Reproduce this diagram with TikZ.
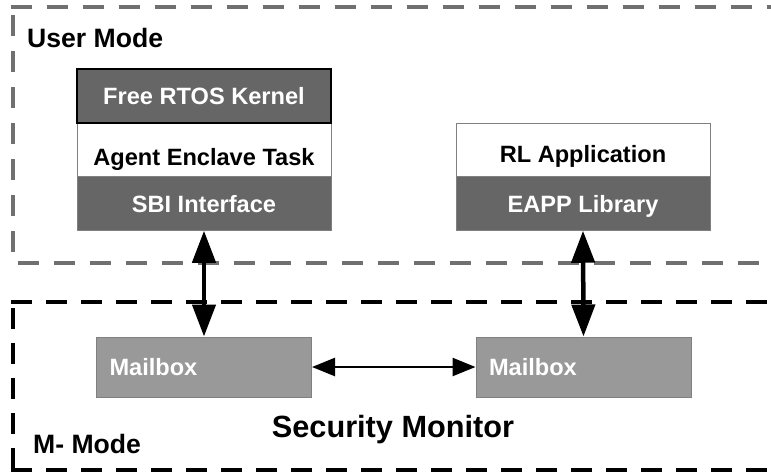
\documentclass[tikz,border=0pt]{standalone}
\usepackage{fontspec}
\setmainfont{Liberation Sans}
\usetikzlibrary{arrows.meta}
\definecolor{boxdark}{HTML}{666666}
\definecolor{boxmail}{HTML}{999999}
\definecolor{boxline}{HTML}{808080}
\definecolor{modegray}{HTML}{707070}
\newcommand{\boxfont}{\bfseries\fontsize{23.6}{28}\selectfont}
\newcommand{\modefont}{\bfseries\fontsize{26.6}{30}\selectfont}

\begin{document}
\begin{tikzpicture}[x=1pt,y=-1pt,
 layerbox/.style={draw=boxline,line width=1pt,minimum width=254pt,minimum height=53.5pt,
   inner sep=0pt,font=\boxfont,text height=17pt,text depth=0pt},
 darkbox/.style={layerbox,fill=boxdark,text=white},
 whitebox/.style={layerbox,fill=white,text=black},
 mailbox/.style={draw=boxline,line width=1pt,fill=boxmail,text=white,font=\boxfont,
   minimum height=60pt,inner ysep=0pt,inner xsep=13pt,text width=189pt,align=left,
   text height=17pt,text depth=0pt},
 modelabel/.style={font=\modefont,inner sep=0pt,anchor=base west},
 usermode/.style={draw=modegray,line width=4pt,dash pattern=on 21pt off 15pt},
 mmode/.style={draw=black,line width=4pt,dash pattern=on 21pt off 14pt},
 bigarrow/.style={line width=4.5pt,{Triangle[length=32pt,width=23pt]}-{Triangle[length=32pt,width=23pt]}},
 thinarrow/.style={line width=2.5pt,{Triangle[length=23pt,width=18pt]}-{Triangle[length=23pt,width=18pt]}}]
\useasboundingbox (0,0) rectangle (771,472);
\clip (0,0) rectangle (771,472);

% privilege regions
\draw[usermode] (11,7)--(790,7);
\draw[usermode] (13,15)--(13,263);
\draw[usermode] (18,263)--(790,263);
\draw[mmode] (11,302)--(790,302);
\draw[mmode] (13,308)--(13,470);
\draw[mmode] (11,470)--(790,470);
\node[modelabel] (um) at (27,47) {User Mode};
\node[modelabel] (mm) at (33,453) {M- Mode};
\node[font=\bfseries\fontsize{30.7}{34}\selectfont,inner sep=0pt,anchor=base] (sm) at (393,437) {Security Monitor};

% agent enclave
\node[whitebox] (agent) at (204,150) {\raisebox{-7pt}{Agent Enclave Task}};
\node[darkbox] (sbi) at (204,203.5) {SBI Interface};
\node[darkbox,draw=black,line width=2pt,minimum height=54pt] (kernel) at (204,96) {Free RTOS Kernel};

% rl application
\node[whitebox] (rlapp) at (583,150) {\raisebox{-3.5pt}{RL Application}};
\node[darkbox] (eapp) at (583,203.5) {EAPP Library};

% mailboxes
\node[mailbox] (mbl) at (204,367) {Mailbox};
\node[mailbox] (mbr) at (583.5,367) {Mailbox};

\draw[bigarrow] (sbi.south) -- (mbl.north);
\draw[bigarrow] (eapp.south) -- (mbr.north);
\draw[thinarrow] (mbl.east) -- (mbr.west);
\end{tikzpicture}
\end{document}
